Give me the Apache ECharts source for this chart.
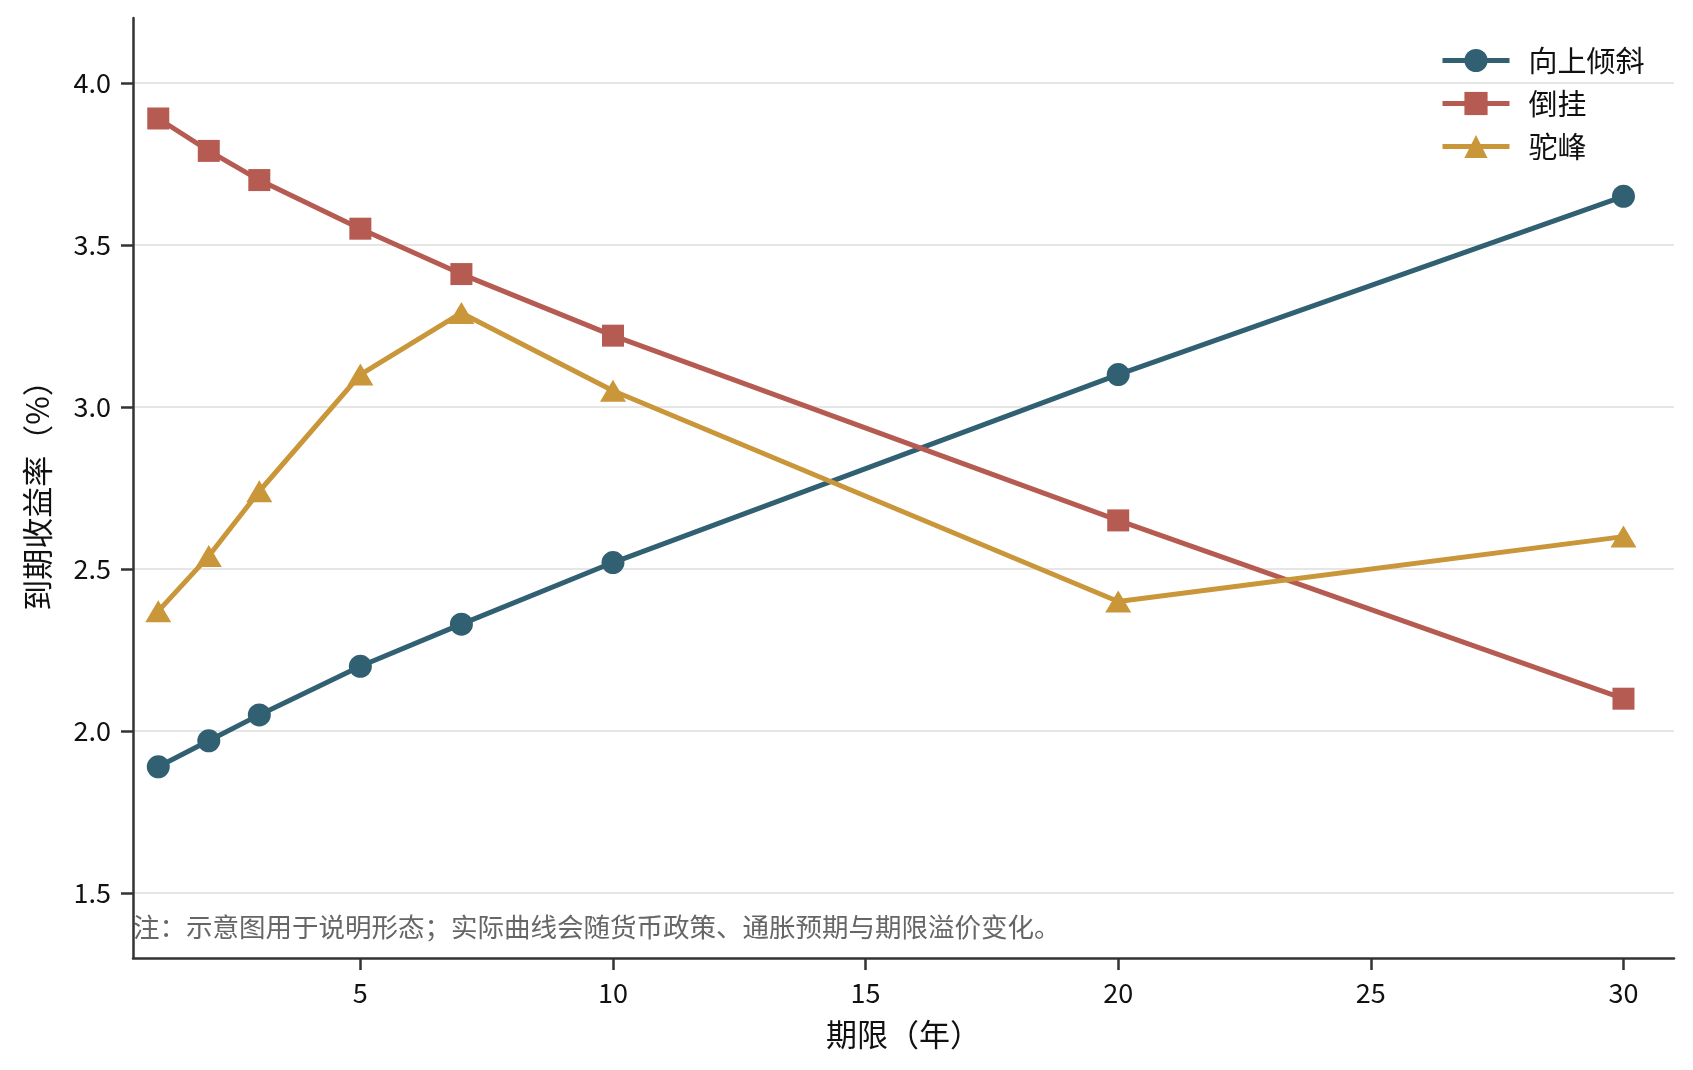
<!DOCTYPE html>
<html>
<head>
<meta charset="utf-8">
<script src="https://cdn.jsdelivr.net/npm/echarts@6/dist/echarts.min.js"></script>
<style>
html,body{margin:0;padding:0;background:#fff;}
#main{width:1693px;height:1070px;}
</style>
</head>
<body>
<div id="main"></div>
<script>
// ---- data ----
const maturities = [1, 2, 3, 5, 7, 10, 20, 30];
const seriesNames = ['向上倾斜', '倒挂', '驼峰'];
const upwardValues = [1.89, 1.97, 2.05, 2.20, 2.33, 2.52, 3.10, 3.65];
const invertedValues = [3.89, 3.79, 3.70, 3.55, 3.41, 3.22, 2.65, 2.10];
const humpedValues = [2.37, 2.54, 2.74, 3.10, 3.29, 3.05, 2.40, 2.60];
const xTicks = [5, 10, 15, 20, 25, 30];
const yTicks = [1.5, 2.0, 2.5, 3.0, 3.5, 4.0];
const xAxisTitle = '期限（年）';
const yAxisTitle = '到期收益率（%）';
const noteText = '注：示意图用于说明形态；实际曲线会随货币政策、通胀预期与期限溢价变化。';

const colors = ['#316072', '#b55b52', '#c9963a'];
const FONT = '"Noto Sans CJK SC", "Noto Sans", sans-serif';

function pairs(vals) { return maturities.map((m, i) => [m, vals[i]]); }

const chart = echarts.init(document.getElementById('main'), null, {renderer: 'canvas'});
const option = {
  animation: false,
  backgroundColor: '#ffffff',
  textStyle: {fontFamily: FONT},
  grid: {left: 133, right: 19, top: 18, bottom: 112, containLabel: false},
  legend: {
    orient: 'vertical',
    left: 1435,
    top: 41,
    itemWidth: 67,
    itemHeight: 29,
    itemGap: 14,
    lineStyle: {width: 5},
    textStyle: {fontSize: 29, color: '#111', fontFamily: FONT, padding: [0, 0, 0, 14]},
    data: seriesNames
  },
  xAxis: {
    type: 'value',
    min: 0.5,
    max: 31,
    name: xAxisTitle,
    nameLocation: 'middle',
    nameGap: 61,
    nameTextStyle: {fontSize: 31, color: '#111', fontFamily: FONT},
    axisLine: {show: true, onZero: false, lineStyle: {color: '#333', width: 2.5}},
    axisTick: {show: true, length: 12, inside: false, customValues: xTicks, lineStyle: {color: '#333', width: 2.5}},
    axisLabel: {customValues: xTicks, fontSize: 27, color: '#111', margin: 21, fontFamily: FONT},
    splitLine: {show: false}
  },
  yAxis: {
    type: 'value',
    min: 1.3,
    max: 4.2,
    name: yAxisTitle,
    nameLocation: 'middle',
    nameRotate: 90,
    nameGap: 80,
    nameTextStyle: {fontSize: 31, color: '#111', fontFamily: FONT},
    axisLine: {show: true, onZero: false, lineStyle: {color: '#333', width: 2.5}},
    axisTick: {show: true, length: 12, customValues: yTicks, lineStyle: {color: '#333', width: 2.5}},
    axisLabel: {customValues: yTicks, fontSize: 27, color: '#111', margin: 22, fontFamily: FONT,
      formatter: v => Number(v).toFixed(1)},
    splitLine: {show: true, lineStyle: {color: '#e6e6e6', width: 2}}
  },
  graphic: [{
    type: 'text',
    left: 133,
    top: 914,
    style: {text: noteText, fontSize: 26.5, fill: '#666', fontFamily: FONT}
  }],
  series: [
    {
      name: seriesNames[0], type: 'line', data: pairs(upwardValues),
      symbol: 'circle', symbolSize: 23,
      lineStyle: {color: colors[0], width: 5},
      itemStyle: {color: colors[0]}
    },
    {
      name: seriesNames[1], type: 'line', data: pairs(invertedValues),
      symbol: 'rect', symbolSize: 22,
      lineStyle: {color: colors[1], width: 5},
      itemStyle: {color: colors[1]}
    },
    {
      name: seriesNames[2], type: 'line', data: pairs(humpedValues),
      symbol: 'triangle', symbolSize: [26, 22],
      lineStyle: {color: colors[2], width: 5},
      itemStyle: {color: colors[2]}
    }
  ]
};
chart.setOption(option);
</script>
</body>
</html>
